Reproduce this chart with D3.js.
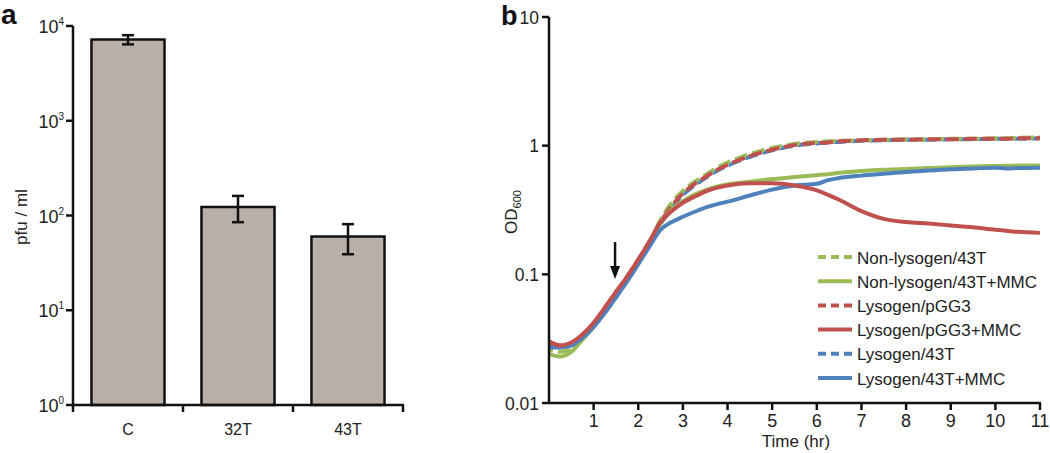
<!DOCTYPE html>
<html>
<head>
<meta charset="utf-8">
<script src="https://cdn.jsdelivr.net/npm/d3@7"></script>
<style>
  html, body { margin: 0; padding: 0; background: #fff; }
  svg { display: block; font-family: "Liberation Sans", Arial, sans-serif; }
</style>
</head>
<body>
<svg id="chart" width="1050" height="453"></svg>
<script>
// ---------- Panel a data ----------
const barCategories = ["C", "32T", "43T"];
const barValues = [7200, 123, 60];
const barErrors = [800, 38, 21];
const barTickExponents = [0, 1, 2, 3, 4];

// ---------- Panel b data ----------
const times = [0, 0.25, 0.5, 0.75, 1, 1.25, 1.5, 1.75, 2, 2.25, 2.5, 2.75, 3, 3.25, 3.5, 3.75, 4, 4.5, 5, 5.5, 6, 6.25, 6.5, 7, 7.5, 8, 8.5, 9, 9.5, 10, 10.25, 10.5, 11];
const nonLysogen43T      = [0.026, 0.025, 0.026, 0.032, 0.040, 0.052, 0.070, 0.093, 0.127, 0.178, 0.265, 0.36, 0.445, 0.52, 0.59, 0.67, 0.74, 0.86, 0.96, 1.03, 1.07, 1.08, 1.09, 1.10, 1.11, 1.12, 1.12, 1.13, 1.13, 1.14, 1.14, 1.15, 1.16];
const nonLysogen43TMMC   = [0.024, 0.023, 0.025, 0.031, 0.039, 0.051, 0.068, 0.090, 0.122, 0.170, 0.250, 0.320, 0.370, 0.415, 0.450, 0.480, 0.500, 0.525, 0.550, 0.570, 0.590, 0.600, 0.615, 0.635, 0.650, 0.660, 0.670, 0.680, 0.690, 0.695, 0.697, 0.700, 0.702];
const lysogenPGG3        = [0.030, 0.028, 0.029, 0.034, 0.042, 0.055, 0.073, 0.096, 0.130, 0.180, 0.255, 0.34, 0.425, 0.50, 0.57, 0.645, 0.71, 0.83, 0.93, 1.01, 1.05, 1.06, 1.08, 1.10, 1.11, 1.11, 1.12, 1.12, 1.13, 1.13, 1.13, 1.14, 1.14];
const lysogenPGG3MMC     = [0.030, 0.028, 0.0295, 0.034, 0.042, 0.055, 0.073, 0.096, 0.130, 0.180, 0.255, 0.310, 0.360, 0.400, 0.440, 0.470, 0.490, 0.510, 0.510, 0.490, 0.450, 0.415, 0.380, 0.310, 0.270, 0.255, 0.248, 0.240, 0.232, 0.222, 0.218, 0.214, 0.210];
const lysogen43T         = [0.028, 0.027, 0.028, 0.033, 0.040, 0.052, 0.069, 0.092, 0.124, 0.172, 0.245, 0.33, 0.415, 0.49, 0.56, 0.635, 0.70, 0.82, 0.92, 1.00, 1.04, 1.06, 1.07, 1.09, 1.10, 1.11, 1.11, 1.12, 1.12, 1.13, 1.13, 1.13, 1.14];
const lysogen43TMMC      = [0.027, 0.027, 0.028, 0.032, 0.039, 0.050, 0.066, 0.088, 0.120, 0.164, 0.222, 0.255, 0.280, 0.305, 0.330, 0.350, 0.367, 0.410, 0.455, 0.490, 0.505, 0.540, 0.560, 0.585, 0.605, 0.625, 0.640, 0.655, 0.665, 0.675, 0.665, 0.670, 0.675];
const seriesNames = ["Non-lysogen/43T", "Non-lysogen/43T+MMC", "Lysogen/pGG3", "Lysogen/pGG3+MMC", "Lysogen/43T", "Lysogen/43T+MMC"];
const odTicks = [0.01, 0.1, 1, 10];
const timeTicks = [1, 2, 3, 4, 5, 6, 7, 8, 9, 10, 11];
const arrowTime = 1.48;

const GREEN = "#9bbb59", RED = "#c0504d", BLUE = "#4f81bd";

const svg = d3.select("#chart");

// ================= Panel a =================
const ga = svg.append("g");
const yA = d3.scaleLog().domain([1, 1e4]).range([405, 26]);
const xA = d3.scaleBand().domain(barCategories).range([73, 403]).paddingInner(0.336).paddingOuter(0.168);

ga.append("text").attr("x", 1).attr("y", 24).attr("font-size", 28).attr("font-weight", "bold").attr("fill", "#111").text("a");

// bars
ga.selectAll("rect.bar").data(barCategories).join("rect")
  .attr("x", d => xA(d))
  .attr("y", (d, i) => yA(barValues[i]))
  .attr("width", xA.bandwidth())
  .attr("height", (d, i) => yA(1) - yA(barValues[i]))
  .attr("fill", "#b8afa8").attr("stroke", "#111").attr("stroke-width", 2.5);

// error bars
barCategories.forEach((c, i) => {
  const cx = xA(c) + xA.bandwidth() / 2;
  const y1 = yA(barValues[i] + barErrors[i]), y0 = yA(barValues[i] - barErrors[i]);
  const g = ga.append("g").attr("stroke", "#111").attr("stroke-width", 2.5);
  g.append("line").attr("x1", cx).attr("x2", cx).attr("y1", y1).attr("y2", y0);
  g.append("line").attr("x1", cx - 6).attr("x2", cx + 6).attr("y1", y1).attr("y2", y1);
  g.append("line").attr("x1", cx - 6).attr("x2", cx + 6).attr("y1", y0).attr("y2", y0);
});

// y axis
ga.append("line").attr("x1", 73).attr("x2", 73).attr("y1", yA(1e4)).attr("y2", yA(1) + 1)
  .attr("stroke", "#111").attr("stroke-width", 2.5);
barTickExponents.forEach(e => {
  const y = yA(Math.pow(10, e));
  ga.append("line").attr("x1", 66).attr("x2", 73).attr("y1", y).attr("y2", y).attr("stroke", "#111").attr("stroke-width", 2.5);
  const t = ga.append("text").attr("x", 64).attr("y", y + 7).attr("text-anchor", "end").attr("font-size", 18).attr("fill", "#222");
  t.append("tspan").text("10");
  t.append("tspan").attr("font-size", 10).attr("dy", -8).text(e);
});
// x axis
ga.append("line").attr("x1", 72).attr("x2", 404).attr("y1", yA(1)).attr("y2", yA(1)).attr("stroke", "#111").attr("stroke-width", 2.5);
const bounds = [73].concat(barCategories.map(c => xA(c) + xA.step() * (1 - 0.168)));
bounds.forEach(x => {
  ga.append("line").attr("x1", x).attr("x2", x).attr("y1", yA(1)).attr("y2", yA(1) + 7).attr("stroke", "#111").attr("stroke-width", 2.5);
});
barCategories.forEach(c => {
  ga.append("text").attr("x", xA(c) + xA.bandwidth() / 2).attr("y", 435).attr("text-anchor", "middle")
    .attr("font-size", 16).attr("fill", "#222").text(c);
});
ga.append("text").attr("transform", "translate(27,217) rotate(-90)").attr("text-anchor", "middle")
  .attr("font-size", 17).attr("fill", "#222").text("pfu / ml");

// ================= Panel b =================
const gb = svg.append("g");
const xB = d3.scaleLinear().domain([0, 11]).range([549, 1040]);
const yB = d3.scaleLog().domain([0.01, 10]).range([403, 17]);

gb.append("text").attr("x", 501).attr("y", 25).attr("font-size", 27).attr("font-weight", "bold").attr("fill", "#111").text("b");

const line = d3.line().x((d, i) => xB(times[i])).y(d => yB(d)).curve(d3.curveMonotoneX);

const series = [
  { v: lysogen43T, c: BLUE, dash: "13,5", off: 4 },
  { v: nonLysogen43T, c: GREEN, dash: "13,5", off: 9 },
  { v: lysogenPGG3, c: RED, dash: "13,5", off: 0 },
  { v: nonLysogen43TMMC, c: GREEN, dash: null },
  { v: lysogen43TMMC, c: BLUE, dash: null },
  { v: lysogenPGG3MMC, c: RED, dash: null }
];
series.forEach(s => {
  gb.append("path").datum(s.v).attr("d", line).attr("fill", "none")
    .attr("stroke", s.c).attr("stroke-width", 4).attr("stroke-linejoin", "round")
    .attr("stroke-dasharray", s.dash).attr("stroke-dashoffset", s.off || 0);
});

// axes
gb.append("line").attr("x1", 549).attr("x2", 549).attr("y1", yB(10)).attr("y2", yB(0.01) + 1).attr("stroke", "#111").attr("stroke-width", 2.5);
odTicks.forEach(v => {
  const y = yB(v);
  gb.append("line").attr("x1", 542).attr("x2", 549).attr("y1", y).attr("y2", y).attr("stroke", "#111").attr("stroke-width", 2.5);
  gb.append("text").attr("x", 539).attr("y", y + 6.5).attr("text-anchor", "end").attr("font-size", 17.5).attr("fill", "#222").text(v);
});
gb.append("line").attr("x1", 548).attr("x2", 1041).attr("y1", yB(0.01)).attr("y2", yB(0.01)).attr("stroke", "#111").attr("stroke-width", 2.5);
timeTicks.forEach(t => {
  const x = xB(t);
  gb.append("line").attr("x1", x).attr("x2", x).attr("y1", yB(0.01)).attr("y2", yB(0.01) + 7).attr("stroke", "#111").attr("stroke-width", 2.5);
  gb.append("text").attr("x", x).attr("y", 427).attr("text-anchor", "middle").attr("font-size", 18).attr("fill", "#222").text(t);
});
gb.append("text").attr("x", 796).attr("y", 447).attr("text-anchor", "middle").attr("font-size", 17).attr("fill", "#222").text("Time (hr)");
const od = gb.append("text").attr("transform", "translate(517,212) rotate(-90)").attr("text-anchor", "middle").attr("font-size", 17).attr("fill", "#222");
od.append("tspan").text("OD");
od.append("tspan").attr("font-size", 11).attr("dy", 4).text("600");

// arrow
const ax = xB(arrowTime);
gb.append("line").attr("x1", ax).attr("x2", ax).attr("y1", 242).attr("y2", 270).attr("stroke", "#111").attr("stroke-width", 2.5);
gb.append("path").attr("d", `M${ax - 5},266 L${ax + 5},266 L${ax},279 Z`).attr("fill", "#111");

// legend
const legendStyles = [
  { c: GREEN, dash: "8,5" }, { c: GREEN, dash: null },
  { c: RED, dash: "8,5" }, { c: RED, dash: null },
  { c: BLUE, dash: "8,5" }, { c: BLUE, dash: null }
];
seriesNames.forEach((n, i) => {
  const y = 257 + i * 24.2;
  gb.append("line").attr("x1", 818).attr("x2", 852).attr("y1", y).attr("y2", y)
    .attr("stroke", legendStyles[i].c).attr("stroke-width", 4).attr("stroke-dasharray", legendStyles[i].dash);
  gb.append("text").attr("x", 857).attr("y", y + 6.5).attr("font-size", 17).attr("fill", "#222").text(n);
});
</script>
</body>
</html>
